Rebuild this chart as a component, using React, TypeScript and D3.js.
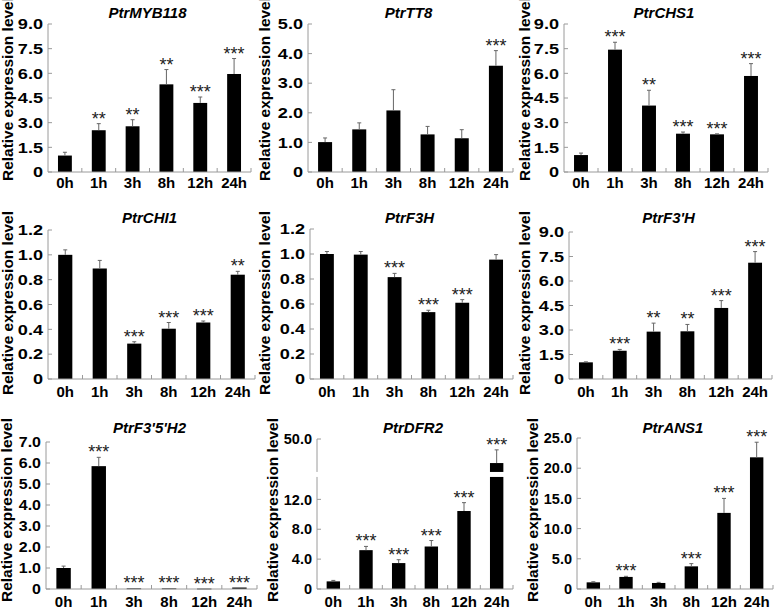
import React from 'react';
import * as d3 from 'd3';

const categories = ["0h", "1h", "3h", "8h", "12h", "24h"];

const geneTitles = ["PtrMYB118", "PtrTT8", "PtrCHS1", "PtrCHI1", "PtrF3H", "PtrF3'H", "PtrF3'5'H2", "PtrDFR2", "PtrANS1"];

const myb118Values = [1.0, 2.54, 2.78, 5.33, 4.2, 5.96];
const myb118Errors = [0.2, 0.4, 0.4, 0.9, 0.36, 0.94];
const myb118Stars = ["", "**", "**", "**", "***", "***"];

const tt8Values = [1.01, 1.44, 2.08, 1.27, 1.14, 3.59];
const tt8Errors = [0.14, 0.22, 0.7, 0.27, 0.29, 0.51];
const tt8Stars = ["", "", "", "", "", "***"];

const chs1Values = [1.03, 7.44, 4.04, 2.33, 2.29, 5.84];
const chs1Errors = [0.12, 0.45, 0.93, 0.1, 0.03, 0.75];
const chs1Stars = ["", "***", "**", "***", "***", "***"];

const chi1Values = [1.0, 0.89, 0.285, 0.405, 0.455, 0.84];
const chi1Errors = [0.04, 0.065, 0.015, 0.05, 0.012, 0.027];
const chi1Stars = ["", "", "***", "***", "***", "**"];

const f3hValues = [1.0, 0.995, 0.815, 0.535, 0.61, 0.955];
const f3hErrors = [0.02, 0.025, 0.03, 0.015, 0.025, 0.04];
const f3hStars = ["", "", "***", "***", "***", ""];

const f3phValues = [1.02, 1.73, 2.9, 2.92, 4.35, 7.12];
const f3phErrors = [0.03, 0.08, 0.52, 0.42, 0.45, 0.68];
const f3phStars = ["", "***", "**", "**", "***", "***"];

const f35h2Values = [1.0, 5.85, 0.03, 0.03, 0.02, 0.07];
const f35h2Errors = [0.09, 0.42, 0, 0, 0, 0];
const f35h2Stars = ["", "***", "***", "***", "***", "***"];

const dfr2Values = [1.02, 5.2, 3.47, 5.69, 10.44, 42.7];
const dfr2Errors = [0.13, 0.5, 0.45, 0.8, 1.12, 4.0];
const dfr2Stars = ["", "***", "***", "***", "***", "***"];
const dfr2BreakLow = 15;
const dfr2BreakHigh = 40;

const ans1Values = [1.1, 2.0, 1.0, 3.75, 12.6, 21.8];
const ans1Errors = [0.1, 0.1, 0.1, 0.45, 2.4, 2.5];
const ans1Stars = ["", "***", "", "***", "***", "***"];

const ticks9 = [0, 1.5, 3, 4.5, 6, 7.5, 9];
const ticks9Labels = ["0", "1.5", "3.0", "4.5", "6.0", "7.5", "9.0"];
const ticks5 = [0, 1, 2, 3, 4, 5];
const ticks5Labels = ["0", "1.0", "2.0", "3.0", "4.0", "5.0"];
const ticks12 = [0, 0.2, 0.4, 0.6, 0.8, 1.0, 1.2];
const ticks12Labels = ["0", "0.2", "0.4", "0.6", "0.8", "1.0", "1.2"];
const ticks7 = [0, 1, 2, 3, 4, 5, 6, 7];
const ticks7Labels = ["0", "1.0", "2.0", "3.0", "4.0", "5.0", "6.0", "7.0"];
const ticksDfr = [0, 4, 8, 12, 50];
const ticksDfrLabels = ["0", "4.0", "8.0", "12.0", "50.0"];
const ticks25 = [0, 5, 10, 15, 20, 25];
const ticks25Labels = ["0", "5.0", "10.0", "15.0", "20.0", "25.0"];

const yAxisTitle = "Relative expression level";

type Spec = {
  title: string; values: number[]; errors: number[]; stars: string[];
  ticks: number[]; tickLabels: string[]; yMax: number; brk?: [number, number];
};

const specs: Spec[] = [
  { title: geneTitles[0], values: myb118Values, errors: myb118Errors, stars: myb118Stars, ticks: ticks9, tickLabels: ticks9Labels, yMax: 9 },
  { title: geneTitles[1], values: tt8Values, errors: tt8Errors, stars: tt8Stars, ticks: ticks5, tickLabels: ticks5Labels, yMax: 5 },
  { title: geneTitles[2], values: chs1Values, errors: chs1Errors, stars: chs1Stars, ticks: ticks9, tickLabels: ticks9Labels, yMax: 9 },
  { title: geneTitles[3], values: chi1Values, errors: chi1Errors, stars: chi1Stars, ticks: ticks12, tickLabels: ticks12Labels, yMax: 1.2 },
  { title: geneTitles[4], values: f3hValues, errors: f3hErrors, stars: f3hStars, ticks: ticks12, tickLabels: ticks12Labels, yMax: 1.2 },
  { title: geneTitles[5], values: f3phValues, errors: f3phErrors, stars: f3phStars, ticks: ticks9, tickLabels: ticks9Labels, yMax: 9 },
  { title: geneTitles[6], values: f35h2Values, errors: f35h2Errors, stars: f35h2Stars, ticks: ticks7, tickLabels: ticks7Labels, yMax: 7 },
  { title: geneTitles[7], values: dfr2Values, errors: dfr2Errors, stars: dfr2Stars, ticks: ticksDfr, tickLabels: ticksDfrLabels, yMax: 50, brk: [dfr2BreakLow, dfr2BreakHigh] },
  { title: geneTitles[8], values: ans1Values, errors: ans1Errors, stars: ans1Stars, ticks: ticks25, tickLabels: ticks25Labels, yMax: 25 },
];

// layout (pixel positions of each panel)
const layouts = [
  { x0: 48, x1: 251, y0: 24, y1: 172, tx: 12.5, tcy: 89, gy: 18, ly: 188, ts: 1.25 },
  { x0: 308, x1: 513, y0: 24, y1: 172, tx: 270, tcy: 89, gy: 18, ly: 188, ts: 1.25 },
  { x0: 564, x1: 768, y0: 24, y1: 172, tx: 530, tcy: 89, gy: 18, ly: 188, ts: 1.25 },
  { x0: 48, x1: 255, y0: 230, y1: 379, tx: 12.5, tcy: 303, gy: 223, ly: 397, ts: 1.25 },
  { x0: 310, x1: 513, y0: 229, y1: 379, tx: 270, tcy: 303, gy: 223, ly: 397, ts: 1.25 },
  { x0: 569, x1: 772, y0: 232, y1: 379, tx: 530, tcy: 303, gy: 223, ly: 397, ts: 1.25 },
  { x0: 46, x1: 257, y0: 442, y1: 589, tx: 12, tcy: 510, gy: 433, ly: 607, ts: 1.1 },
  { x0: 317, x1: 513, y0: 439, y1: 589, tx: 278, tcy: 510, gy: 433, ly: 607, ts: 1.0 },
  { x0: 577, x1: 773, y0: 438, y1: 589, tx: 538, tcy: 510, gy: 433, ly: 607, ts: 1.0 },
];

const FONT = "'Liberation Sans', Arial, Helvetica, sans-serif";
const AXIS = "#9a9a9a";

function Panel({ spec, lay }: { spec: Spec; lay: typeof layouts[0] }) {
  const x = d3.scaleBand<string>().domain(categories).range([lay.x0, lay.x1]).paddingInner(0).paddingOuter(0);
  const step = x.step();
  const barW = step * 0.41;
  let yLow: d3.ScaleLinear<number, number>;
  let yHigh: d3.ScaleLinear<number, number> | null = null;
  let breakLowPx = lay.y0, breakHighPx = lay.y0;
  if (spec.brk) {
    breakLowPx = lay.y1 - (lay.y1 - lay.y0) * 0.747;
    breakHighPx = breakLowPx - 5;
    yLow = d3.scaleLinear().domain([0, spec.brk[0]]).range([lay.y1, breakLowPx]);
    yHigh = d3.scaleLinear().domain([spec.brk[1], spec.yMax]).range([breakHighPx, lay.y0]);
  } else {
    yLow = d3.scaleLinear().domain([0, spec.yMax]).range([lay.y1, lay.y0]);
  }
  const y = (v: number) => {
    if (!spec.brk || !yHigh) return yLow(v);
    if (v <= spec.brk[0]) return yLow(v);
    if (v >= spec.brk[1]) return yHigh(v);
    return breakLowPx;
  };
  const boundaries = d3.range(1, categories.length + 1).map(i => lay.x0 + i * step);

  return (
    <g>
      <text x={(lay.x0 + lay.x1) / 2 - 2} y={lay.gy} textAnchor="middle" fontFamily={FONT} fontWeight="bold" fontStyle="italic" fontSize={15} fill="#000">{spec.title}</text>
      <text transform={`translate(${lay.tx},${lay.tcy}) rotate(-90)`} textAnchor="middle" fontFamily={FONT} fontWeight="bold" fontSize={14} textLength={184} lengthAdjust="spacingAndGlyphs" fill="#000">{yAxisTitle}</text>
      {/* bars */}
      {categories.map((c, i) => {
        const v = spec.values[i];
        const cx = (x(c) as number) + step / 2;
        const bx = cx - barW / 2;
        if (spec.brk && v > spec.brk[0]) {
          return (
            <g key={c}>
              <rect x={bx} y={breakLowPx} width={barW} height={lay.y1 - breakLowPx} fill="#000" />
              <rect x={bx} y={y(v)} width={barW} height={breakHighPx - y(v)} fill="#000" />
            </g>
          );
        }
        return <rect key={c} x={bx} y={y(v)} width={barW} height={Math.max(lay.y1 - y(v), 0.8)} fill="#000" />;
      })}
      {/* error bars */}
      {categories.map((c, i) => {
        const v = spec.values[i], e = spec.errors[i];
        if (!e) return null;
        const cx = (x(c) as number) + step / 2;
        return (
          <g key={c} stroke="#666" strokeWidth={1}>
            <line x1={cx} x2={cx} y1={y(v)} y2={y(v + e)} />
            <line x1={cx - 2} x2={cx + 2} y1={y(v + e)} y2={y(v + e)} />
          </g>
        );
      })}
      {/* stars */}
      {categories.map((c, i) => {
        const s = spec.stars[i];
        if (!s) return null;
        const cx = (x(c) as number) + step / 2;
        const top = y(spec.values[i] + spec.errors[i]);
        return <text key={c} x={cx} y={top + 1} textAnchor="middle" fontFamily={FONT} fontSize={18} fill="#222">{s}</text>;
      })}
      {/* axes */}
      {spec.brk ? (
        <g stroke={AXIS} strokeWidth={1}>
          <line x1={lay.x0} x2={lay.x0} y1={lay.y1} y2={breakLowPx} />
          <line x1={lay.x0} x2={lay.x0} y1={breakHighPx} y2={lay.y0} />
        </g>
      ) : (
        <line x1={lay.x0} x2={lay.x0} y1={lay.y1} y2={lay.y0} stroke={AXIS} strokeWidth={1} />
      )}
      <line x1={lay.x0} x2={lay.x1} y1={lay.y1} y2={lay.y1} stroke={AXIS} strokeWidth={1} />
      {boundaries.map((bx, i) => (
        <line key={i} x1={bx} x2={bx} y1={lay.y1} y2={lay.y1 - 4} stroke={AXIS} strokeWidth={1} />
      ))}
      {spec.ticks.map((t, i) => (
        <g key={i}>
          <line x1={lay.x0} x2={lay.x0 + 4} y1={y(t)} y2={y(t)} stroke={AXIS} strokeWidth={1} />
          <text transform={`translate(${lay.x0 - 5},${y(t)}) scale(${lay.ts},1)`} dy="0.36em" textAnchor="end" fontFamily={FONT} fontWeight="bold" fontSize={14.5} fill="#000">{spec.tickLabels[i]}</text>
        </g>
      ))}
      {categories.map(c => (
        <text key={c} x={(x(c) as number) + step / 2} y={lay.ly} textAnchor="middle" fontFamily={FONT} fontWeight="bold" fontSize={15} fill="#000">{c}</text>
      ))}
    </g>
  );
}

export default function App() {
  return (
    <svg width={778} height={611} style={{ position: 'absolute', left: 0, top: 0, background: '#fff' }}>
      <rect x={0} y={0} width={778} height={611} fill="#fff" />
      {specs.map((s, i) => <Panel key={i} spec={s} lay={layouts[i]} />)}
    </svg>
  );
}
